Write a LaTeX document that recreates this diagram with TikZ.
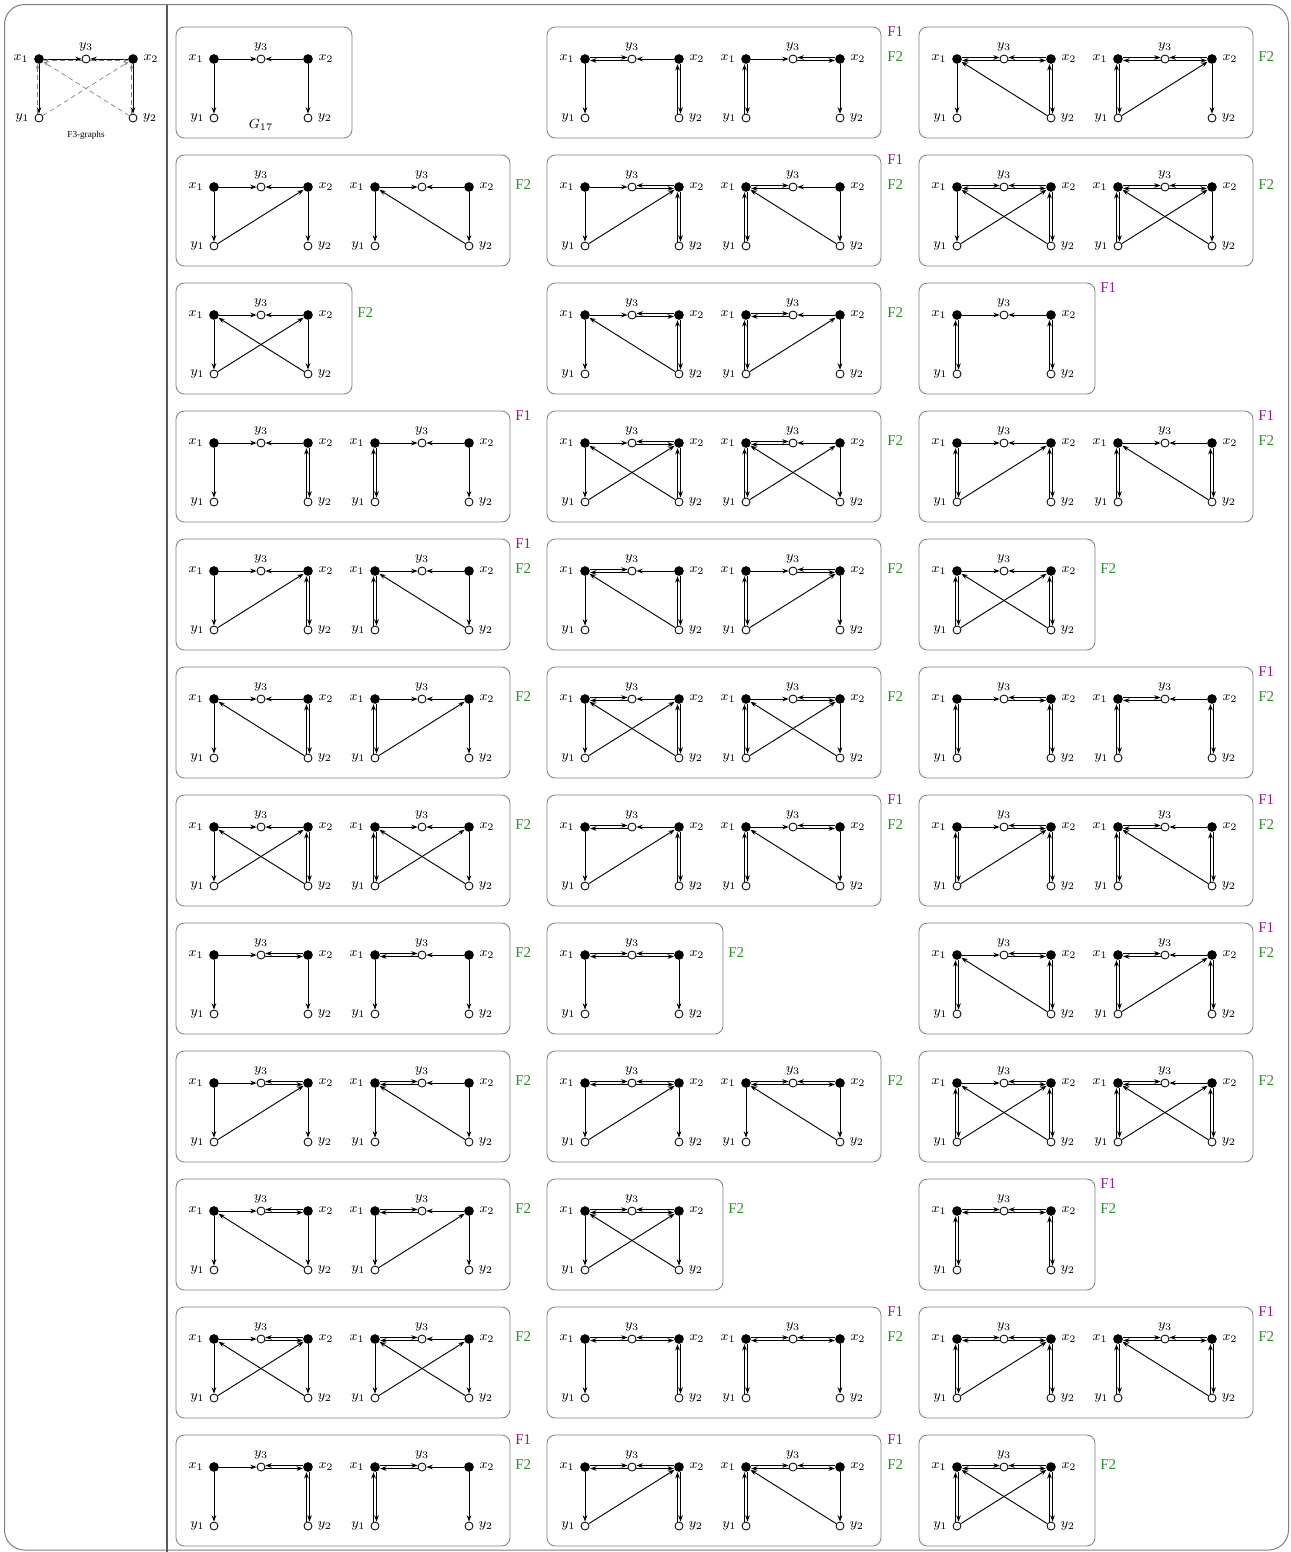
\documentclass[tikz,border=0pt]{standalone}
\usepackage{fontspec}
\setmainfont{Liberation Serif}
\usepackage{tikz}
\usetikzlibrary{arrows.meta}
\definecolor{fonecol}{RGB}{145,30,145}
\definecolor{ftwocol}{RGB}{40,145,40}

\tikzset{
  xnode/.style={circle,fill=black,inner sep=0pt,minimum size=5.8pt},
  ynode/.style={circle,draw=black,fill=white,inner sep=0pt,minimum size=4.8pt,line width=0.5pt},
  lbl/.style={font=\footnotesize,inner sep=0pt,label distance=3pt},
  arr/.style={-{Stealth[length=3.8pt,width=2.8pt]},line width=0.55pt},
  hint/.style={-{Stealth[length=3pt,width=2.2pt]},gray,densely dashed,line width=0.4pt},
  cellframe/.style={draw=gray,rounded corners=5pt,line width=0.5pt},
  fone/.style={text=fonecol,font=\small,anchor=west,inner sep=0pt},
  ftwo/.style={text=ftwocol,font=\small,anchor=west,inner sep=0pt}
}

% double edges: first arrow on top / right, reverse one below / left
\newcommand{\hpair}[2]{%
  \draw[arr,transform canvas={yshift=0.9pt}] (#1) -- (#2);
  \draw[arr,transform canvas={yshift=-0.9pt}] (#2) -- (#1);}
\newcommand{\vpair}[2]{%
  \draw[arr,transform canvas={xshift=0.9pt}] (#1) -- (#2);
  \draw[arr,transform canvas={xshift=-0.9pt}] (#2) -- (#1);}

% one graph; flags: x1-y3, x2-y3, x1-y1, x2-y2 double; y1->x2, y2->x1
\newcommand{\fgraph}[6]{%
  \node[xnode,label={[lbl]left:$x_1$}] (x1) at (0,0) {};
  \node[ynode,label={[lbl,label distance=2pt]above:$y_3$}] (y3) at (47,0) {};
  \node[xnode,label={[lbl]right:$x_2$}] (x2) at (94,0) {};
  \node[ynode,label={[lbl]left:$y_1$}] (y1) at (0,59) {};
  \node[ynode,label={[lbl]right:$y_2$}] (y2) at (94,59) {};
  \ifnum#1=1 \hpair{x1}{y3}\else\draw[arr] (x1) -- (y3);\fi
  \ifnum#2=1 \hpair{x2}{y3}\else\draw[arr] (x2) -- (y3);\fi
  \ifnum#3=1 \vpair{x1}{y1}\else\draw[arr] (x1) -- (y1);\fi
  \ifnum#4=1 \vpair{x2}{y2}\else\draw[arr] (x2) -- (y2);\fi
  \ifnum#5=1 \draw[arr] (y1) -- (x2);\fi
  \ifnum#6=1 \draw[arr] (y2) -- (x1);\fi}

% box with one symmetric graph
\newcommand{\onecell}[8]{%
  \draw[cellframe] (#1,#2) rectangle ++(176,111);
  \begin{scope}[shift={(#1+38,#2+32)}]\fgraph{#3}{#4}{#5}{#6}{#7}{#8}\end{scope}}
% box with a graph and its mirror image
\newcommand{\twocell}[8]{%
  \draw[cellframe] (#1,#2) rectangle ++(334,111);
  \begin{scope}[shift={(#1+38,#2+32)}]\fgraph{#3}{#4}{#5}{#6}{#7}{#8}\end{scope}
  \begin{scope}[shift={(#1+199,#2+32)}]\fgraph{#4}{#3}{#6}{#5}{#8}{#7}\end{scope}}

% labels right of a box: x = right edge, y = top
\newcommand{\Fone}[2]{\node[fone] (F1-#1-#2) at (#1+5,#2+5) {F1};}
\newcommand{\Ftwo}[2]{\node[ftwo] (F2-#1-#2) at (#1+5,#2+30) {F2};}

\begin{document}
\begin{tikzpicture}[x=0.6pt,y=-0.6pt]
  \useasboundingbox (0,0) rectangle (1290,1552);
  \draw[gray,line width=0.6pt,rounded corners=12pt] (4.5,4.5) rectangle (1288.5,1550);
  \draw[black!65,line width=0.9pt] (167,4.5) -- (167,1552);

  % legend
  \begin{scope}[shift={(39,59)}]
    \fgraph{0}{0}{0}{0}{0}{0}
    \draw[hint,transform canvas={yshift=-0.9pt}] (y3) -- (x1);
    \draw[hint,transform canvas={yshift=-0.9pt}] (y3) -- (x2);
    \draw[hint,transform canvas={xshift=-0.9pt}] (y1) -- (x1);
    \draw[hint,transform canvas={xshift=-0.9pt}] (y2) -- (x2);
    \draw[hint] (y1) -- (x2);
    \draw[hint] (y2) -- (x1);
    \node[font=\fontsize{5.5}{6}\selectfont] (legend) at (47,76) {F3-graphs};
  \end{scope}

  % row 1
  \onecell{176}{27}{0}{0}{0}{0}{0}{0}
  \node[lbl] (G17) at (261,125) {$G_{17}$};
  \twocell{547}{27}{1}{0}{0}{1}{0}{0} \Fone{882}{27} \Ftwo{882}{27}
  \twocell{919}{27}{1}{1}{0}{1}{0}{1} \Ftwo{1253}{27}
  % row 2
  \twocell{176}{155}{0}{0}{0}{0}{1}{0} \Ftwo{510}{155}
  \twocell{547}{155}{0}{1}{0}{1}{1}{0} \Fone{882}{155} \Ftwo{882}{155}
  \twocell{919}{155}{1}{1}{0}{1}{1}{1} \Ftwo{1253}{155}
  % row 3
  \onecell{176}{283}{0}{0}{0}{0}{1}{1} \Ftwo{352}{283}
  \twocell{547}{283}{0}{1}{0}{1}{0}{1} \Ftwo{882}{283}
  \onecell{919}{283}{0}{0}{1}{1}{0}{0} \Fone{1095}{283}
  % row 4
  \twocell{176}{411}{0}{0}{0}{1}{0}{0} \Fone{510}{411}
  \twocell{547}{411}{0}{1}{0}{1}{1}{1} \Ftwo{882}{411}
  \twocell{919}{411}{0}{0}{1}{1}{1}{0} \Fone{1253}{411} \Ftwo{1253}{411}
  % row 5
  \twocell{176}{539}{0}{0}{0}{1}{1}{0} \Fone{510}{539} \Ftwo{510}{539}
  \twocell{547}{539}{1}{0}{0}{1}{0}{1} \Ftwo{882}{539}
  \onecell{919}{539}{0}{0}{1}{1}{1}{1} \Ftwo{1095}{539}
  % row 6
  \twocell{176}{667}{0}{0}{0}{1}{0}{1} \Ftwo{510}{667}
  \twocell{547}{667}{1}{0}{0}{1}{1}{1} \Ftwo{882}{667}
  \twocell{919}{667}{0}{1}{1}{1}{0}{0} \Fone{1253}{667} \Ftwo{1253}{667}
  % row 7
  \twocell{176}{795}{0}{0}{0}{1}{1}{1} \Ftwo{510}{795}
  \twocell{547}{795}{1}{0}{0}{1}{1}{0} \Fone{882}{795} \Ftwo{882}{795}
  \twocell{919}{795}{0}{1}{1}{1}{1}{0} \Fone{1253}{795} \Ftwo{1253}{795}
  % row 8
  \twocell{176}{923}{0}{1}{0}{0}{0}{0} \Ftwo{510}{923}
  \onecell{547}{923}{1}{1}{0}{0}{0}{0} \Ftwo{723}{923}
  \twocell{919}{923}{0}{1}{1}{1}{0}{1} \Fone{1253}{923} \Ftwo{1253}{923}
  % row 9
  \twocell{176}{1051}{0}{1}{0}{0}{1}{0} \Ftwo{510}{1051}
  \twocell{547}{1051}{1}{1}{0}{0}{1}{0} \Ftwo{882}{1051}
  \twocell{919}{1051}{0}{1}{1}{1}{1}{1} \Ftwo{1253}{1051}
  % row 10
  \twocell{176}{1179}{0}{1}{0}{0}{0}{1} \Ftwo{510}{1179}
  \onecell{547}{1179}{1}{1}{0}{0}{1}{1} \Ftwo{723}{1179}
  \onecell{919}{1179}{1}{1}{1}{1}{0}{0} \Fone{1095}{1179} \Ftwo{1095}{1179}
  % row 11
  \twocell{176}{1307}{0}{1}{0}{0}{1}{1} \Ftwo{510}{1307}
  \twocell{547}{1307}{1}{1}{0}{1}{0}{0} \Fone{882}{1307} \Ftwo{882}{1307}
  \twocell{919}{1307}{1}{1}{1}{1}{1}{0} \Fone{1253}{1307} \Ftwo{1253}{1307}
  % row 12
  \twocell{176}{1435}{0}{1}{0}{1}{0}{0} \Fone{510}{1435} \Ftwo{510}{1435}
  \twocell{547}{1435}{1}{1}{0}{1}{1}{0} \Fone{882}{1435} \Ftwo{882}{1435}
  \onecell{919}{1435}{1}{1}{1}{1}{1}{1} \Ftwo{1095}{1435}
\end{tikzpicture}
\end{document}
